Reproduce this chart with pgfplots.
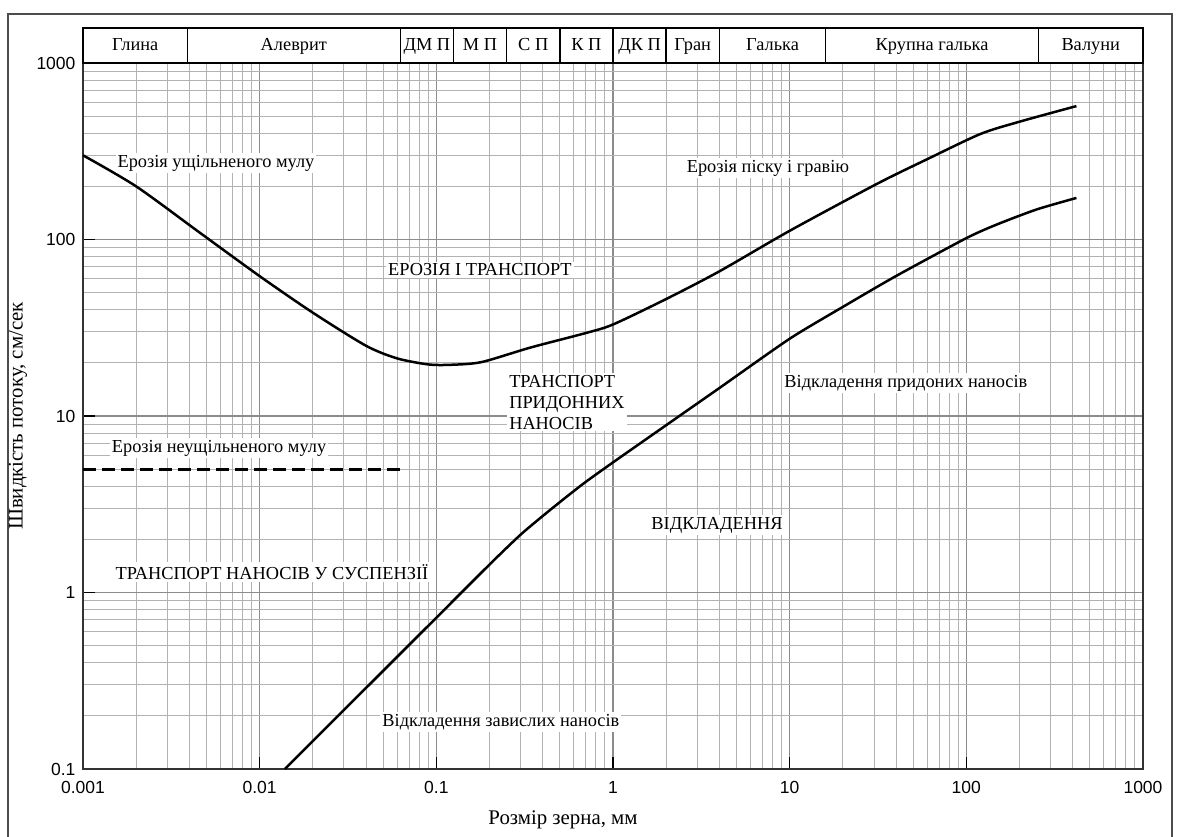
\documentclass[border=0pt]{standalone}
\usepackage{fontspec}
\setmainfont{Liberation Serif}
\newfontfamily\tickfont{Liberation Sans}
\usepackage{pgfplots}
\pgfplotsset{compat=1.18}
\tikzset{lbl/.style={font=\fontsize{11}{12.6}\selectfont, fill=white, inner sep=1.2pt},
         bnd/.style={font=\fontsize{11}{12.6}\selectfont, inner sep=0pt, text height=1.6ex, text depth=0.3ex}}
\begin{document}
\begin{tikzpicture}
\path[use as bounding box] (0,0) rectangle (709.2pt,-502.2pt);
\draw[black!70, line width=0.8pt] (4.8pt,-502.2pt) -- (4.8pt,-8.4pt) -- (703.2pt,-8.4pt) -- (703.2pt,-502.2pt);
\begin{axis}[
  at={(49.8pt,-461.4pt)}, anchor=south west,
  scale only axis, width=636pt, height=423.6pt,
  xmode=log, ymode=log,
  xmin=0.001, xmax=1000, ymin=0.1, ymax=1000,
  xtick={0.001,0.01,0.1,1,10,100,1000},
  xticklabels={0.001,0.01,0.1,1,10,100,1000},
  ytick={0.1,1,10,100,1000},
  yticklabels={0.1,1,10,100,1000},
  tick pos=left,
  major tick length=7pt, minor tick length=0pt,
  tick style={black, line width=0.8pt},
  grid=both,
  minor grid style={black!30, line width=0.55pt},
  major grid style={black!45, line width=0.8pt},
  axis line style={black!80, line width=0.9pt},
  tick label style={font=\tickfont\fontsize{10.5}{12}\selectfont},
  xticklabel style={yshift=-4pt},
  yticklabel style={xshift=-1pt},
  /pgf/number format/assume math mode=true,
  clip=false,
]
% erosion curve
\addplot[black, line width=1.5pt, smooth, tension=0.45] coordinates {
 (0.001,300) (0.002,200) (0.0046,109) (0.01,62) (0.02,38.5) (0.04,25)
 (0.06,21.2) (0.09,19.6) (0.12,19.5) (0.18,20.2) (0.34,24.4) (0.7,29.5)
 (1,33) (2,46) (4,66) (10,112) (31,206) (60,285) (120,396) (200,465) (420,570)};
% deposition curve
\addplot[black, line width=1.5pt, smooth, tension=0.4] coordinates {
 (0.0139,0.1) (0.1,0.72) (0.2,1.44) (0.302,2.14) (0.447,2.97) (0.676,4.12) (1,5.46)
 (2,8.87) (4,14.4) (10,27.4) (20,41.5) (40,62.1) (100,101.8) (150,122) (250,148) (420,172)};
% unconsolidated mud erosion
\addplot[black, line width=1.8pt, dash pattern=on 7.8pt off 3.6pt] coordinates {(0.001,5) (0.0625,5)};

% region labels
\node[lbl] at (axis cs:0.00566,271) {Ерозія ущільненого мулу};
\node[lbl] at (axis cs:0.1766,67.2) {ЕРОЗІЯ І ТРАНСПОРТ};
\node[lbl] at (axis cs:7.54,254) {Ерозія піску і гравію};
\node[lbl, anchor=west, align=left] at (axis cs:0.251,12.0) {ТРАНСПОРТ\\ПРИДОННИХ\\НАНОСІВ};
\node[lbl] at (axis cs:45.5,15.4) {Відкладення придоних наносів};
\node[lbl] at (axis cs:0.00589,6.59) {Ерозія неущільненого мулу};
\node[lbl] at (axis cs:3.88,2.41) {ВІДКЛАДЕННЯ};
\node[lbl] at (axis cs:0.01175,1.306) {ТРАНСПОРТ НАНОСІВ У СУСПЕНЗІЇ};
\node[lbl] at (axis cs:0.232,0.1845) {Відкладення завислих наносів};

% grain size band
\draw[black, line width=0.9pt, fill=white] (axis cs:0.001,1000) rectangle (axis cs:1000,1578);
\draw[black, line width=0.9pt] (axis cs:0.0039,1000) -- (axis cs:0.0039,1578);
\draw[black, line width=0.9pt] (axis cs:0.0625,1000) -- (axis cs:0.0625,1578);
\draw[black, line width=0.9pt] (axis cs:0.125,1000) -- (axis cs:0.125,1578);
\draw[black, line width=0.9pt] (axis cs:0.25,1000) -- (axis cs:0.25,1578);
\draw[black, line width=0.9pt] (axis cs:0.5,1000) -- (axis cs:0.5,1578);
\draw[black, line width=0.9pt] (axis cs:1,1000) -- (axis cs:1,1578);
\draw[black, line width=0.9pt] (axis cs:2,1000) -- (axis cs:2,1578);
\draw[black, line width=0.9pt] (axis cs:4,1000) -- (axis cs:4,1578);
\draw[black, line width=0.9pt] (axis cs:16,1000) -- (axis cs:16,1578);
\draw[black, line width=0.9pt] (axis cs:256,1000) -- (axis cs:256,1578);
\node[bnd] at (axis cs:0.001975,1256) {Глина};
\node[bnd] at (axis cs:0.01561,1256) {Алеврит};
\node[bnd] at (axis cs:0.0884,1256) {ДМ П};
\node[bnd] at (axis cs:0.1768,1256) {М П};
\node[bnd] at (axis cs:0.3536,1256) {С П};
\node[bnd] at (axis cs:0.7071,1256) {К П};
\node[bnd] at (axis cs:1.414,1256) {ДК П};
\node[bnd] at (axis cs:2.828,1256) {Гран};
\node[bnd] at (axis cs:8,1256) {Галька};
\node[bnd] at (axis cs:64,1256) {Крупна галька};
\node[bnd] at (axis cs:506,1256) {Валуни};
\end{axis}
\node[font=\fontsize{12.5}{14}\selectfont] at (337.8pt,-492pt) {Розмір зерна, мм};
\node[font=\fontsize{12.5}{14}\selectfont, rotate=90] at (10.8pt,-249.6pt) {Швидкість потоку, см/сек};
\end{tikzpicture}
\end{document}
